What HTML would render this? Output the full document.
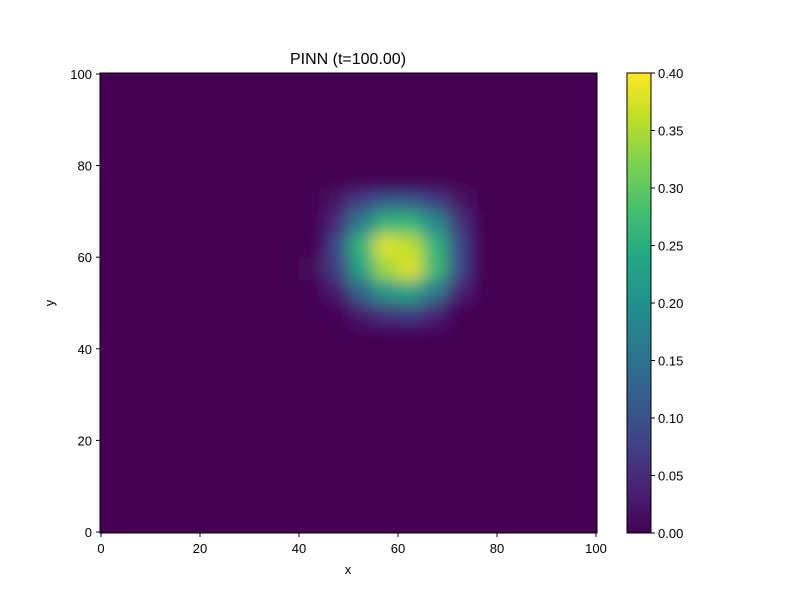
<!DOCTYPE html>
<html><head><meta charset="utf-8"><style>
body{margin:0;background:#fff;font-family:"Liberation Sans",sans-serif}
svg text{font-family:"Liberation Sans",sans-serif;fill:#000}
</style></head><body>
<svg id="chart" width="800" height="600" xmlns="http://www.w3.org/2000/svg">
<defs>
<clipPath id="plotclip"><rect x="100" y="73" width="497" height="460"/></clipPath>
<filter id="blur" x="-10%" y="-10%" width="120%" height="120%"><feGaussianBlur stdDeviation="8"/></filter>
<linearGradient id="viridis" x1="0" y1="1" x2="0" y2="0">
<stop offset="0" stop-color="#440154"/><stop offset="0.1" stop-color="#482475"/><stop offset="0.2" stop-color="#414487"/><stop offset="0.3" stop-color="#355f8d"/><stop offset="0.4" stop-color="#2a788e"/><stop offset="0.5" stop-color="#21918c"/><stop offset="0.6" stop-color="#22a884"/><stop offset="0.7" stop-color="#44bf70"/><stop offset="0.8" stop-color="#7ad151"/><stop offset="0.9" stop-color="#bddf26"/><stop offset="1" stop-color="#fde725"/>
</linearGradient>
</defs>
<text x="348" y="64" text-anchor="middle" font-size="16">PINN (t=100.00)</text>
<g clip-path="url(#plotclip)">
<rect x="100" y="73" width="497" height="460" fill="#440154"/>
<g id="cells" filter="url(#blur)"></g>
</g>
<rect x="100" y="73" width="497" height="460" fill="none" stroke="#000" stroke-width="1"/>
<g id="axes"></g>
<text x="348" y="574" text-anchor="middle" font-size="13">x</text>
<text x="54" y="303" text-anchor="middle" font-size="13" transform="rotate(-90 54 303)">y</text>
<rect x="627" y="73" width="24" height="460" fill="url(#viridis)" stroke="#000" stroke-width="1"/>
<g id="cbaxis"></g>
</svg>
<script>
const xTicks=[0,20,40,60,80,100];
const yTicks=[0,20,40,60,80,100];
const cbTicks=[0,0.05,0.1,0.15,0.2,0.25,0.3,0.35,0.4];
const cellSize=5;
const Z=[0,0,0,0,0,0,0,0,0,0,0,0,0,0,0,0,0,0,0,0];
// rows from y=95-100 (top) to y=0-5 (bottom); columns x=0-5 .. 95-100
const values=[
Z,Z,Z,Z,Z,
[0,0,0,0,0,0,0,0,0,0.02,0.07,0.11,0.11,0.07,0.02,0,0,0,0,0],
[0,0,0,0,0,0,0,0,0,0.05,0.17,0.26,0.26,0.19,0.06,0,0,0,0,0],
[0,0,0,0,0,0,0,0,0,0.09,0.26,0.38,0.36,0.26,0.09,0,0,0,0,0],
[0,0,0,0,0,0,0,0,0.01,0.07,0.23,0.34,0.38,0.27,0.09,0,0,0,0,0],
[0,0,0,0,0,0,0,0,0,0.03,0.13,0.21,0.23,0.16,0.04,0,0,0,0,0],
[0,0,0,0,0,0,0,0,0,0,0.03,0.06,0.07,0.04,0,0,0,0,0,0],
Z,Z,Z,Z,Z,Z,Z,Z,Z];
const vmin=0,vmax=0.4;
const NS="http://www.w3.org/2000/svg";
const X=v=>101+v*4.95, Y=v=>532-v*4.58, CB=v=>533-(v-vmin)/(vmax-vmin)*460;
const stops=["#440154","#482475","#414487","#355f8d","#2a788e","#21918c","#22a884","#44bf70","#7ad151","#bddf26","#fde725"];
function hex(h){return [1,3,5].map(i=>parseInt(h.substr(i,2),16));}
function cmap(v){let t=Math.max(0,Math.min(1,(v-vmin)/(vmax-vmin)))*10;let i=Math.min(9,Math.floor(t)),f=t-i;const a=hex(stops[i]),b=hex(stops[i+1]);return "rgb("+a.map((c,k)=>Math.round(c+(b[k]-c)*f)).join(",")+")";}
const cells=document.getElementById('cells');
values.forEach((row,r)=>row.forEach((v,c)=>{
 if(v<=0)return;
 const yTop=100-r*cellSize;
 const el=document.createElementNS(NS,'rect');
 
 
 el.setAttribute('x',X(c*cellSize));el.setAttribute('y',Y(yTop));
 el.setAttribute('width',X(cellSize)-X(0)+0.5);el.setAttribute('height',Y(0)-Y(cellSize)+0.5);
 el.setAttribute('fill',cmap(v));cells.appendChild(el);
}));
const axes=document.getElementById('axes');
function add(tag,attrs,parent,text){const e=document.createElementNS(NS,tag);for(const k in attrs)e.setAttribute(k,attrs[k]);if(text!==undefined)e.textContent=text;parent.appendChild(e);return e;}
xTicks.forEach(t=>{
 const l=add('line',{x1:X(t),x2:X(t),y1:533,y2:537,stroke:'#000'},axes);
 
 
 const s=add('text',{x:X(t),y:553,'text-anchor':'middle','font-size':13},axes,String(t));
 
 
});
yTicks.forEach(t=>{
 const l=add('line',{x1:96,x2:100,y1:Y(t),y2:Y(t),stroke:'#000'},axes);
 
 
 const s=add('text',{x:92,y:Y(t)+5,'text-anchor':'end','font-size':13},axes,String(t));
 
 
});
const cb=document.getElementById('cbaxis');
cbTicks.forEach(t=>{
 const l=add('line',{x1:651,x2:655,y1:CB(t),y2:CB(t),stroke:'#000'},cb);
 
 
 const s=add('text',{x:658,y:CB(t)+5,'font-size':13},cb,t.toFixed(2));
 
 
});
</script>
</body></html>
